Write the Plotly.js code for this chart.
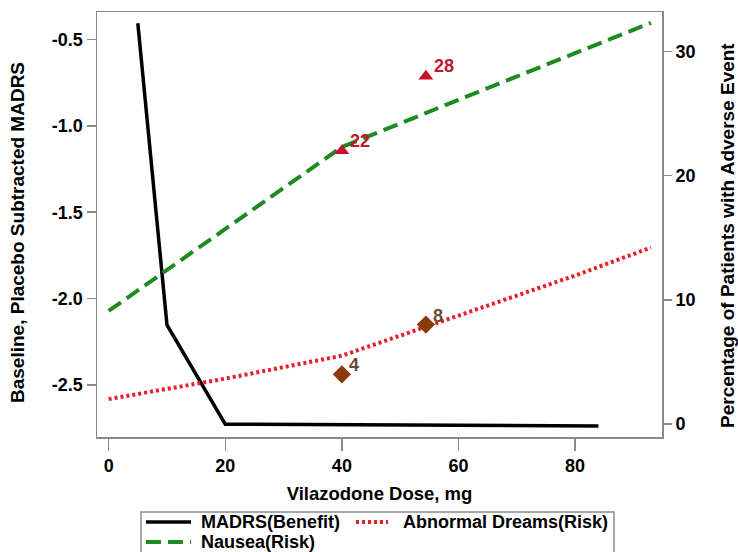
<!DOCTYPE html>
<html>
<head>
<meta charset="utf-8">
<script src="https://cdn.plot.ly/plotly-3.0.1.min.js"></script>
<style>html,body{margin:0;padding:0;background:#fff;}#chart{width:738px;height:552px;}</style>
</head>
<body>
<div id="chart"></div>
<script>
// MADRS benefit curve (left axis)
var madrsDose = [5, 10, 20, 84];
var madrsValue = [-0.405, -2.153, -2.728, -2.738];

// Nausea risk curve (right axis, %)
var nauseaDose = [0, 20, 40, 60, 80, 93];
var nauseaPct = [9.1, 15.7, 22.3, 26.1, 29.9, 32.3];

// Abnormal dreams risk curve (right axis, %)
var dreamsDose = [0, 20, 40, 60, 80, 93];
var dreamsPct = [2.0, 3.65, 5.5, 8.75, 11.95, 14.2];

// Observed nausea rates
var nauseaObsDose = [40, 54.4];
var nauseaObsPct = [22, 28];
var nauseaObsLabel = ['22', '28'];

// Observed abnormal dreams rates
var dreamsObsDose = [40, 54.4];
var dreamsObsPct = [4, 8];
var dreamsObsLabel = ['4', '8'];

// Axis ticks
var xTicks = [0, 20, 40, 60, 80];
var yLeftTicks = [-0.5, -1.0, -1.5, -2.0, -2.5];
var yLeftTickText = ['-0.5', '-1.0', '-1.5', '-2.0', '-2.5'];
var yRightTicks = [0, 10, 20, 30];

// Titles and legend labels
var xTitle = 'Vilazodone Dose, mg';
var yLeftTitle = 'Baseline, Placebo Subtracted MADRS';
var yRightTitle = 'Percentage of Patients with Adverse Event';
var legendLabels = ['MADRS(Benefit)', 'Abnormal Dreams(Risk)', 'Nausea(Risk)'];

var FONT = 'Liberation Sans, Arial, sans-serif';
var AXC = '#8a8a8a';
var NAUSEA_TXT = '#c0182a';
var DREAMS_TXT = '#6e4a2c';

var traces = [
  {x: nauseaDose, y: nauseaPct, yaxis: 'y2', mode: 'lines', name: legendLabels[2],
   line: {color: '#1f8a1f', width: 4, dash: '15px,7px'}, showlegend: false, hoverinfo: 'skip'},
  {x: dreamsDose, y: dreamsPct, yaxis: 'y2', mode: 'lines', name: legendLabels[1],
   line: {color: '#ee1c25', width: 4, dash: '3px,3px'}, showlegend: false, hoverinfo: 'skip'},
  {x: madrsDose, y: madrsValue, yaxis: 'y', mode: 'lines', name: legendLabels[0],
   line: {color: '#000000', width: 3.5}, showlegend: false, hoverinfo: 'skip'},
  {x: nauseaObsDose, y: nauseaObsPct, yaxis: 'y2', mode: 'markers',
   marker: {symbol: 'triangle-up', size: 13, color: '#c8102e'}, showlegend: false, hoverinfo: 'skip'},
  {x: dreamsObsDose, y: dreamsObsPct, yaxis: 'y2', mode: 'markers',
   marker: {symbol: 'diamond', size: 14, color: '#8b3a10'}, showlegend: false, hoverinfo: 'skip'}
];

// paper coordinate helpers for legend placement (plot area 97..662 x, 12..437 y)
function px(xp) { return (xp - 97) / 565; }
function py(yp) { return (437 - yp) / 425; }

var shapes = [
  {type: 'rect', xref: 'paper', yref: 'paper', x0: px(141), x1: px(614), y0: py(512), y1: py(575),
   line: {color: AXC, width: 1.5}, fillcolor: 'rgba(0,0,0,0)'},
  {type: 'line', xref: 'paper', yref: 'paper', x0: px(146), x1: px(191), y0: py(522), y1: py(522),
   line: {color: '#000', width: 3.5}},
  {type: 'line', xref: 'paper', yref: 'paper', x0: px(356), x1: px(388), y0: py(522), y1: py(522),
   line: {color: '#ee1c25', width: 4, dash: '3px,3px'}},
  {type: 'line', xref: 'paper', yref: 'paper', x0: px(146), x1: px(191), y0: py(542), y1: py(542),
   line: {color: '#1f8a1f', width: 4, dash: '15px,7px'}}
];

var lfont = {family: FONT, size: 18, color: '#000', weight: 'bold'};
var titleFont = {family: FONT, size: 19, color: '#000', weight: 'bold'};
var annotations = [
  {xref: 'paper', yref: 'paper', x: px(199), y: py(522), xanchor: 'left', yanchor: 'middle',
   text: legendLabels[0], showarrow: false, font: lfont},
  {xref: 'paper', yref: 'paper', x: px(401), y: py(522), xanchor: 'left', yanchor: 'middle',
   text: legendLabels[1], showarrow: false, font: lfont},
  {xref: 'paper', yref: 'paper', x: px(199), y: py(542), xanchor: 'left', yanchor: 'middle',
   text: legendLabels[2], showarrow: false, font: lfont},
  {xref: 'paper', yref: 'paper', x: px(17), y: py(233), xanchor: 'center', yanchor: 'middle',
   text: yLeftTitle, textangle: -90, showarrow: false, font: titleFont},
  {xref: 'paper', yref: 'paper', x: px(727), y: py(236), xanchor: 'center', yanchor: 'middle',
   text: yRightTitle, textangle: -90, showarrow: false, font: titleFont}
];

nauseaObsDose.forEach(function (d, i) {
  annotations.push({x: d, y: nauseaObsPct[i], xref: 'x', yref: 'y2', text: nauseaObsLabel[i],
    showarrow: false, xanchor: 'left', yanchor: 'middle', xshift: 6, yshift: 10,
    font: {family: FONT, size: 18, color: NAUSEA_TXT, weight: 'bold'}});
});
dreamsObsDose.forEach(function (d, i) {
  annotations.push({x: d, y: dreamsObsPct[i], xref: 'x', yref: 'y2', text: dreamsObsLabel[i],
    showarrow: false, xanchor: 'left', yanchor: 'middle', xshift: 5, yshift: 9,
    font: {family: FONT, size: 18, color: DREAMS_TXT, weight: 'bold'}});
});

var tickFont = {family: FONT, size: 18, color: '#000', weight: 'bold'};

var layout = {
  width: 738, height: 552,
  margin: {l: 97, r: 76, t: 12, b: 115},
  paper_bgcolor: '#fff', plot_bgcolor: '#fff',
  showlegend: false,
  font: {family: FONT},
  xaxis: {
    range: [-2.0, 94.9], tickvals: xTicks, ticks: 'outside', ticklen: 12, tickwidth: 1.5, tickcolor: AXC,
    showline: true, linecolor: AXC, linewidth: 1.5, mirror: true, showgrid: false, zeroline: false,
    tickfont: tickFont, title: {text: xTitle, font: {family: FONT, size: 18.5, color: '#000', weight: 'bold'}, standoff: 12}
  },
  yaxis: {
    range: [-2.802, -0.34], tickvals: yLeftTicks, ticktext: yLeftTickText, ticks: 'outside', ticklen: 9,
    tickwidth: 1.5, tickcolor: AXC, showline: true, linecolor: AXC, linewidth: 1.5, mirror: true,
    showgrid: false, zeroline: false, tickfont: tickFont
  },
  yaxis2: {
    overlaying: 'y', side: 'right', range: [-1.05, 33.17], tickvals: yRightTicks, ticks: 'outside',
    ticklen: 9, tickwidth: 1.5, tickcolor: AXC, showline: false, showgrid: false, zeroline: false,
    tickfont: tickFont
  },
  shapes: shapes,
  annotations: annotations
};

Plotly.newPlot('chart', traces, layout, {staticPlot: true, displayModeBar: false});
</script>
</body>
</html>
